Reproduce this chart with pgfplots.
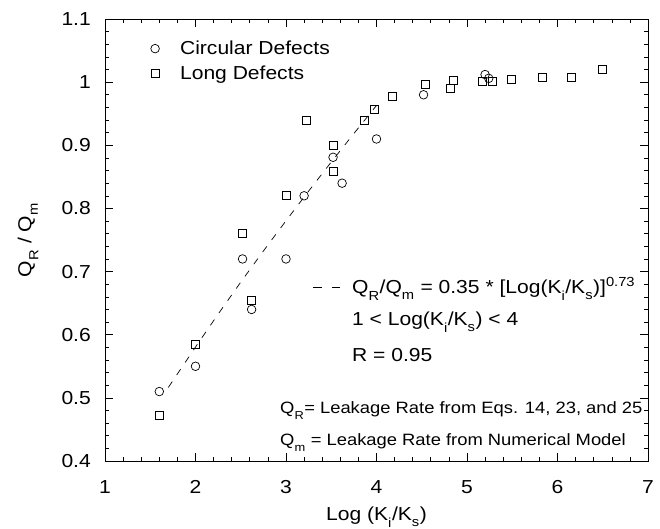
\documentclass[border=0pt]{standalone}
\usepackage{fontspec}
\setmainfont{Liberation Sans}[FakeStretch=1.12]
\usepackage{pgfplots}
\pgfplotsset{compat=1.18}
\newcommand\bigf{\fontsize{18.8bp}{22bp}\selectfont}
\newcommand\smf{\fontsize{16.4bp}{19bp}\selectfont}
\newcommand\sub[1]{\raisebox{-0.4ex}{\textsubscript{#1}}}
\begin{document}
\begin{tikzpicture}
\path[use as bounding box] (-105bp,-68bp) rectangle (555bp,461bp);
\begin{axis}[
  at={(0,0)}, anchor=south west,
  scale only axis, width=543bp, height=442bp,
  xmin=1, xmax=7, ymin=0.4, ymax=1.1,
  xtick={1,2,3,4,5,6,7},
  ytick={0.4,0.5,0.6,0.7,0.8,0.9,1.0,1.1},
  xticklabels={1,2,3,4,5,6,7},
  yticklabels={0.4,0.5,0.6,0.7,0.8,0.9,1,1.1},
  minor x tick num=4, minor y tick num=4,
  tick align=inside, major tick length=8bp, minor tick length=4bp,
  every tick/.style={black, line width=0.6bp},
  axis line style={black, line width=0.8bp},
  tick label style={font=\bigf, inner sep=0pt},
  xticklabel style={anchor=base, yshift=-32.5bp},
  yticklabel style={anchor=east, xshift=-14bp},
  xlabel={Log (K\sub{i}/K\sub{s})},
  ylabel={Q\sub{R} / Q\sub{m}},
  label style={font=\bigf},
  xlabel style={at={(axis description cs:0.5,0)}, anchor=base, yshift=-59bp},
  ylabel style={at={(axis description cs:0,0.5)}, anchor=center, yshift=77bp},
  legend style={at={(axis description cs:0.084,0.955)}, anchor=north west, draw=none, fill=none,
    font=\bigf, inner sep=0pt, row sep=6bp, nodes={inner sep=2bp}},
  legend cell align=left,
  legend image code/.code={\draw[#1, only marks] plot coordinates {(0bp,0bp)}; \path[draw=none] (-4bp,0bp) (23bp,0bp);},
]
\addplot[only marks, mark=o, mark size=4.3bp, mark options={line width=0.7bp, black}] coordinates {
(1.6,0.51) (2.0,0.55) (2.52,0.72) (2.62,0.64) (3.0,0.72) (3.2,0.82) (3.52,0.881)
(3.62,0.84) (4.0,0.91) (4.52,0.98) (5.2,1.012) (5.24,1.006)
};
\addlegendentry{Circular Defects}
\addplot[only marks, mark=square, mark size=4bp, mark options={line width=0.7bp, black}] coordinates {
(1.6,0.473) (2.0,0.585) (2.52,0.76) (2.62,0.655) (3.0,0.82) (3.22,0.94) (3.52,0.90)
(3.52,0.858) (3.87,0.94) (3.98,0.957) (4.18,0.978) (4.54,0.997) (4.82,0.99) (4.85,1.003)
(5.17,1.002) (5.28,1.002) (5.49,1.005) (5.83,1.007) (6.15,1.008) (6.5,1.021)
};
\addlegendentry{Long Defects}
\addplot[black, line width=0.7bp, dash pattern=on 7bp off 8bp, forget plot] coordinates {
(1.70,0.5165) (2.0,0.5805) (2.25,0.6326) (2.5,0.6833) (2.75,0.7325) (3.0,0.7805)
(3.25,0.8274) (3.5,0.8735) (3.75,0.9186) (4.0,0.963)
};
\draw[black, line width=0.7bp, dash pattern=on 9bp off 10bp] (axis cs:3.298,0.6756) -- (axis cs:3.597,0.6756);
\node[anchor=base west, font=\bigf, inner sep=0pt] at (axis cs:3.729,0.666)
  {Q\sub{R}/Q\sub{m} = 0.35 * [Log(K\sub{i}/K\sub{s})]\textsuperscript{0.73}};
\node[anchor=base west, font=\bigf, inner sep=0pt] at (axis cs:3.729,0.615)
  {1 < Log(K\sub{i}/K\sub{s}) < 4};
\node[anchor=base west, font=\bigf, inner sep=0pt] at (axis cs:3.729,0.557)
  {R = 0.95};
\node[anchor=base west, font=\smf, inner sep=0pt] at (axis cs:2.934,0.476)
  {Q\sub{R}= Leakage Rate from Eqs. 14, 23, and 25};
\node[anchor=base west, font=\smf, inner sep=0pt] at (axis cs:2.934,0.425)
  {Q\sub{m} = Leakage Rate from Numerical Model};
\end{axis}
\end{tikzpicture}
\end{document}
